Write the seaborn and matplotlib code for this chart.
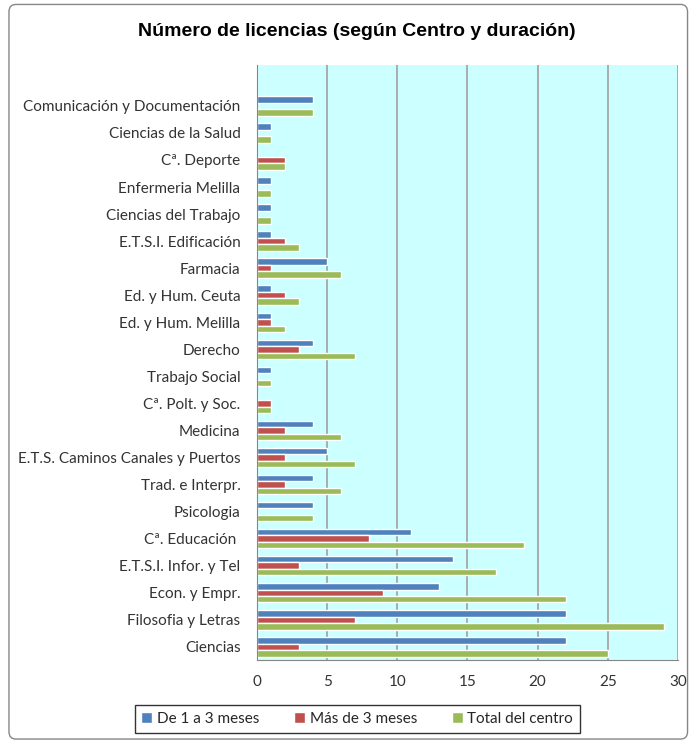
import pandas as pd
import numpy as np
import matplotlib.pyplot as plt
import seaborn as sns
from matplotlib.patches import FancyBboxPatch

# --------------------------------
# Data
# --------------------------------

centros = [
    "Comunicación y Documentación",
    "Ciencias de la Salud",
    "Cª. Deporte",
    "Enfermeria Melilla",
    "Ciencias del Trabajo",
    "E.T.S.I. Edificación",
    "Farmacia",
    "Ed. y Hum. Ceuta",
    "Ed. y Hum. Melilla",
    "Derecho",
    "Trabajo Social",
    "Cª. Polt. y Soc.",
    "Medicina",
    "E.T.S. Caminos Canales y Puertos",
    "Trad. e Interpr.",
    "Psicologia",
    "Cª. Educación ",
    "E.T.S.I. Infor. y Tel",
    "Econ. y Empr.",
    "Filosofia y Letras",
    "Ciencias",
]

de_1_a_3 = [4, 1, 0, 1, 1, 1, 5, 1, 1, 4, 1, 0, 4, 5, 4, 4, 11, 14, 13, 22, 22]
mas_de_3 = [0, 0, 2, 0, 0, 2, 1, 2, 1, 3, 0, 1, 2, 2, 2, 0, 8, 3, 9, 7, 3]
total = [4, 1, 2, 1, 1, 3, 6, 3, 2, 7, 1, 1, 6, 7, 6, 4, 19, 17, 22, 29, 25]

series_names = ["De 1 a 3 meses", "Más de 3 meses", "Total del centro"]
colors = ["#4F81BD", "#C0504D", "#9BBB59"]

df = pd.DataFrame({
    "Centro": centros * 3,
    "Serie": np.repeat(series_names, len(centros)),
    "Valor": de_1_a_3 + mas_de_3 + total,
})

# --------------------------------
# Plot
# --------------------------------

sns.set_style("white")
plt.rcParams["font.family"] = ["Lato", "DejaVu Sans"]

fig = plt.figure(figsize=(6.91, 7.42), dpi=100)
ax = fig.add_axes([0.372, 0.110, 0.609, 0.802])
ax.set_facecolor("#CCFFFF")

sns.barplot(
    data=df, x="Valor", y="Centro", hue="Serie",
    order=centros, hue_order=series_names, palette=colors,
    orient="h", width=0.72, saturation=1, ax=ax, legend=True,
)

ax.set_xlim(0, 30)
ax.set_xticks(range(0, 31, 5))
ax.set_ylim(len(centros) - 0.5, -1.5)
ax.set_yticks(np.arange(-1.5, len(centros), 1), minor=True)
ax.set_xlabel("")
ax.set_ylabel("")

ax.grid(axis="x", color="#A6A6A6", linewidth=1.3)
ax.set_axisbelow(True)
for s in ["top", "right"]:
    ax.spines[s].set_visible(False)
for s in ["left", "bottom"]:
    ax.spines[s].set_color("#868686")

ax.tick_params(axis="y", which="major", length=0, labelsize=11, labelcolor="#333333", pad=12)
ax.tick_params(axis="y", which="minor", length=4, color="#868686", direction="out")
ax.tick_params(axis="x", length=5, color="#868686", direction="inout", labelsize=11,
               labelcolor="#333333", pad=8)

ax.legend(
    loc="center", bbox_to_anchor=(0.517, 0.031), bbox_transform=fig.transFigure,
    ncol=3, frameon=True, fancybox=False, edgecolor="#000000", fontsize=11,
    handlelength=0.7, handleheight=0.7, handletextpad=0.3, columnspacing=2.3,
    borderpad=0.45,
)

fig.text(0.517, 0.957, "Número de licencias (según Centro y duración)",
         ha="center", va="center", fontsize=14, fontweight="bold", color="#000000",
         family=["Liberation Sans", "DejaVu Sans"])

border = FancyBboxPatch((0.013, 0.004), 0.982, 0.99, boxstyle="round,pad=0,rounding_size=0.01",
                        transform=fig.transFigure, fill=False, edgecolor="#868686", linewidth=1)
fig.patches.append(border)

fig.savefig("out.png", dpi=100)
